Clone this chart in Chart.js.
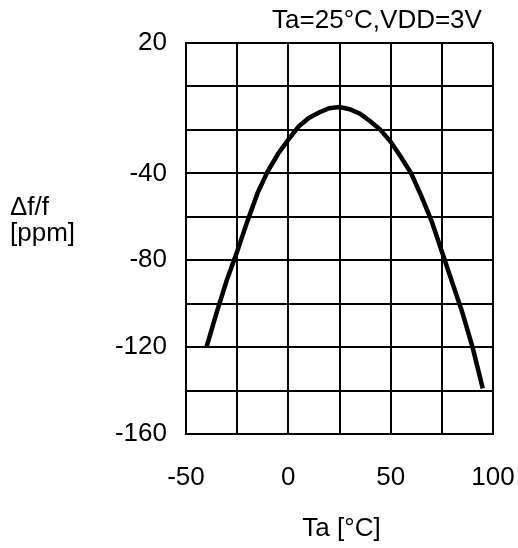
<!DOCTYPE html>
<html>
<head>
<meta charset="utf-8">
<script src="https://cdn.jsdelivr.net/npm/chart.js@4.4.1/dist/chart.umd.min.js"></script>
<style>
  html, body { margin: 0; padding: 0; background: #fff; }
  #wrap { width: 518px; height: 548px; }
</style>
</head>
<body>
<div id="wrap"><canvas id="c" width="518" height="548"></canvas></div>
<script>
// Frequency deviation vs. ambient temperature
const temperatures = [-40, -35, -30, -25, -20, -15, -10, -5, 0, 5, 10, 15, 20, 25, 30,
                      35, 40, 45, 50, 55, 60, 65, 70, 75, 80, 85, 90, 95];
const deviationPpm = [-120, -104, -89, -76, -62, -49, -39, -31, -24.5, -18.5, -14.5, -12, -10, -9.5, -10.5,
                      -12.5, -16, -20, -25.5, -32.5, -40, -50.5, -62, -76, -90, -104, -120, -139];

const xLabelled = [-50, 0, 50, 100];
const yLabelled = [20, -40, -80, -120, -160];

const conditionText = 'Ta=25\u00B0C,VDD=3V';
const yTitleLines = ['\u0394f/f', '[ppm]'];
const xTitle = 'Ta [\u00B0C]';

const FONT_FAMILY = '"Liberation Sans", Arial, Helvetica, sans-serif';
const FONT_SIZE = 26;

const points = temperatures.map((t, i) => ({ x: t, y: deviationPpm[i] }));

// Free-standing captions: condition line, y-axis caption, x-axis caption
const captions = {
  id: 'captions',
  afterDraw(chart) {
    const ctx = chart.ctx;
    const area = chart.chartArea;
    ctx.save();
    ctx.fillStyle = '#000';
    ctx.font = FONT_SIZE + 'px ' + FONT_FAMILY;
    ctx.textBaseline = 'alphabetic';

    ctx.textAlign = 'center';
    ctx.fillText(conditionText, 377, 28);

    ctx.textAlign = 'left';
    ctx.fillText(yTitleLines[0], 10, 215);
    ctx.fillText(yTitleLines[1], 10, 241);

    ctx.textAlign = 'center';
    ctx.fillText(xTitle, (area.left + area.right) / 2 + 2, 536);
    ctx.restore();
  }
};

new Chart(document.getElementById('c'), {
  type: 'line',
  data: {
    datasets: [{
      data: points,
      borderColor: '#000',
      borderWidth: 4.5,
      pointRadius: 0,
      tension: 0,
      fill: false
    }]
  },
  options: {
    responsive: false,
    animation: false,
    events: [],
    layout: { padding: { top: 43, right: 25, bottom: 0, left: 0 } },
    plugins: {
      legend: { display: false },
      tooltip: { enabled: false },
      title: { display: false }
    },
    scales: {
      x: {
        type: 'linear',
        min: -50,
        max: 100,
        afterFit(scale) { scale.height = 114; },
        border: { display: true, color: '#000', width: 2 },
        grid: { color: '#000', lineWidth: 2, drawTicks: false },
        ticks: {
          stepSize: 25,
          autoSkip: false,
          maxRotation: 0,
          padding: 2,
          color: '#000',
          // tall line box pushes the labels down without widening the side padding
          font: { family: FONT_FAMILY, size: FONT_SIZE, lineHeight: '84px' },
          callback: (v) => xLabelled.includes(v) ? String(v) : ''
        }
      },
      y: {
        type: 'linear',
        min: -160,
        max: 20,
        afterFit(scale) { scale.width = 186; },
        border: { display: true, color: '#000', width: 2 },
        grid: { color: '#000', lineWidth: 2, drawTicks: false },
        ticks: {
          stepSize: 20,
          autoSkip: false,
          padding: 19,
          color: '#000',
          font: { family: FONT_FAMILY, size: FONT_SIZE },
          callback: (v) => yLabelled.includes(v) ? String(v) : ''
        }
      }
    }
  },
  plugins: [captions]
});
</script>
</body>
</html>
